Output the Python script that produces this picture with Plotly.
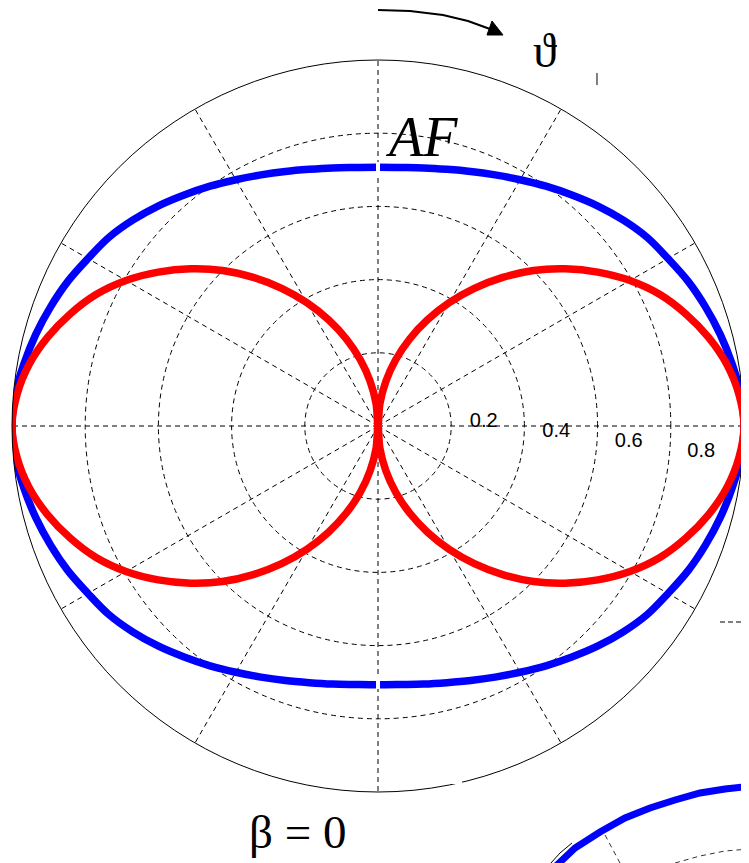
import plotly.graph_objects as go

# ---------------- data ----------------
theta_deg = list(range(0, 365, 5))  # angle from top, clockwise

af_blue = [0.707, 0.709, 0.716, 0.726, 0.740, 0.757, 0.777, 0.800, 0.824, 0.850,
           0.875, 0.898, 0.915, 0.935, 0.952, 0.968, 0.982, 0.995, 1.000,
           0.995, 0.982, 0.968, 0.952, 0.935, 0.915, 0.898, 0.875, 0.850, 0.824,
           0.800, 0.777, 0.757, 0.740, 0.726, 0.716, 0.709, 0.707,
           0.709, 0.716, 0.726, 0.740, 0.757, 0.777, 0.800, 0.824, 0.850,
           0.875, 0.898, 0.915, 0.935, 0.952, 0.968, 0.982, 0.995, 1.000,
           0.995, 0.982, 0.968, 0.952, 0.935, 0.915, 0.898, 0.875, 0.850, 0.824,
           0.800, 0.777, 0.757, 0.740, 0.726, 0.716, 0.709, 0.707]

af_red = [0.000, 0.062, 0.124, 0.188, 0.253, 0.320, 0.389, 0.459, 0.530, 0.601,
          0.668, 0.733, 0.795, 0.850, 0.895, 0.935, 0.968, 0.990, 1.000,
          0.990, 0.968, 0.935, 0.895, 0.850, 0.795, 0.733, 0.668, 0.601, 0.530,
          0.459, 0.389, 0.320, 0.253, 0.188, 0.124, 0.062, 0.000,
          0.062, 0.124, 0.188, 0.253, 0.320, 0.389, 0.459, 0.530, 0.601,
          0.668, 0.733, 0.795, 0.850, 0.895, 0.935, 0.968, 0.990, 1.000,
          0.990, 0.968, 0.935, 0.895, 0.850, 0.795, 0.733, 0.668, 0.601, 0.530,
          0.459, 0.389, 0.320, 0.253, 0.188, 0.124, 0.062, 0.000]

radial_ticks = [0.2, 0.4, 0.6, 0.8]
radial_labels = ["0.2", "0.4", "0.6", "0.8"]

# ---------------- figure ----------------
OX, OY = 8, 8          # page body margin
W, H = 741, 855


def px(x, y):
    """screen pixel -> paper fraction"""
    return (x - OX) / W, 1 - (y - OY) / H


def path(points):
    s = ""
    for i, (x, y) in enumerate(points):
        X, Y = px(x, y)
        s += ("M" if i == 0 else "L") + f" {X:.5f} {Y:.5f} "
    return s


fig = go.Figure()
fig.add_trace(go.Scatterpolar(r=af_blue, theta=theta_deg, mode="lines",
                              line=dict(color="#0000ff", width=7.5, shape="spline"),
                              showlegend=False, hoverinfo="skip"))
fig.add_trace(go.Scatterpolar(r=af_red, theta=theta_deg, mode="lines",
                              line=dict(color="#ff0000", width=7.5, shape="spline"),
                              showlegend=False, hoverinfo="skip"))

cx, cy, R = 378, 426, 366
dash = "5px,4px"
pad = "\u00a0" * 3
fig.update_layout(
    width=W, height=H,
    margin=dict(l=0, r=0, t=0, b=0),
    paper_bgcolor="white",
    showlegend=False,
    polar=dict(
        domain=dict(x=[(cx - R - OX) / W, (cx + R - OX) / W],
                    y=[1 - (cy + R - OY) / H, 1 - (cy - R - OY) / H]),
        bgcolor="white",
        angularaxis=dict(rotation=90, direction="clockwise", dtick=30,
                         showticklabels=False, ticks="",
                         showgrid=True, gridcolor="black", gridwidth=0.8,
                         griddash=dash, showline=True, linecolor="black",
                         linewidth=1),
        radialaxis=dict(range=[0, 1], tickvals=radial_ticks,
                        ticktext=[pad + t for t in radial_labels],
                        showline=False, ticks="outside", ticklen=1,
                        tickcolor="rgba(0,0,0,0)",
                        side="counterclockwise",
                        showgrid=True, gridcolor="black", gridwidth=0.8,
                        griddash=dash, angle=-7.9, tickangle=-7.9,
                        tickfont=dict(family="Liberation Sans", size=20,
                                      color="black")),
    ),
)

shapes = []
# white gaps
for (x0, y0, x1, y1) in [(433, 764, 462, 784), (376, 162, 380, 176), (376, 675, 380, 689)]:
    X0, Y0 = px(x0, y0)
    X1, Y1 = px(x1, y1)
    shapes.append(dict(type="rect", xref="paper", yref="paper", x0=X0, y0=Y1,
                       x1=X1, y1=Y0, fillcolor="white", line=dict(width=0),
                       layer="above"))
# curved arrow
shapes.append(dict(type="path", xref="paper", yref="paper",
                   path=path([(378, 10), (410, 11), (443, 15), (468, 21), (490, 29)]),
                   line=dict(color="black", width=2)))
shapes.append(dict(type="path", xref="paper", yref="paper",
                   path=path([(503, 35), (492, 21), (487, 35)]) + "Z",
                   fillcolor="black", line=dict(color="black", width=1)))
# stray marks
shapes.append(dict(type="path", xref="paper", yref="paper",
                   path=path([(597, 73), (597, 85)]), line=dict(color="black", width=1)))
shapes.append(dict(type="path", xref="paper", yref="paper",
                   path=path([(720, 622), (741, 622)]),
                   line=dict(color="black", width=1, dash="5px,3px")))
# fragment of the neighbouring chart (bottom-right)
shapes.append(dict(type="path", xref="paper", yref="paper",
                   path=path([(551, 863), (560, 853), (572, 843)]),
                   line=dict(color="black", width=1)))
shapes.append(dict(type="path", xref="paper", yref="paper",
                   path=path([(556, 866), (575, 848), (600, 832), (625, 818), (650, 808),
                              (675, 800), (700, 793), (725, 789), (752, 786)]),
                   line=dict(color="#0000ff", width=7)))
shapes.append(dict(type="path", xref="paper", yref="paper",
                   path=path([(605, 835), (620, 863)]),
                   line=dict(color="black", width=0.8, dash="5px,4px")))
shapes.append(dict(type="path", xref="paper", yref="paper",
                   path=path([(675, 863), (700, 856), (725, 851), (749, 849)]),
                   line=dict(color="black", width=0.8, dash="5px,4px")))
fig.update_layout(shapes=shapes)

serif = "Liberation Serif"
annots = [
    dict(text="\u03d1", x=545, y=50, size=48),
    dict(text="<i>AF</i>", x=421, y=137, size=56),
    dict(text="\u03b2 = 0", x=297, y=832, size=47),
]
for a in annots:
    X, Y = px(a["x"], a["y"])
    fig.add_annotation(text=a["text"], x=X, y=Y, xref="paper", yref="paper",
                       showarrow=False, xanchor="center", yanchor="middle",
                       font=dict(family=serif, size=a["size"], color="black"))

fig.write_html("out.html")
